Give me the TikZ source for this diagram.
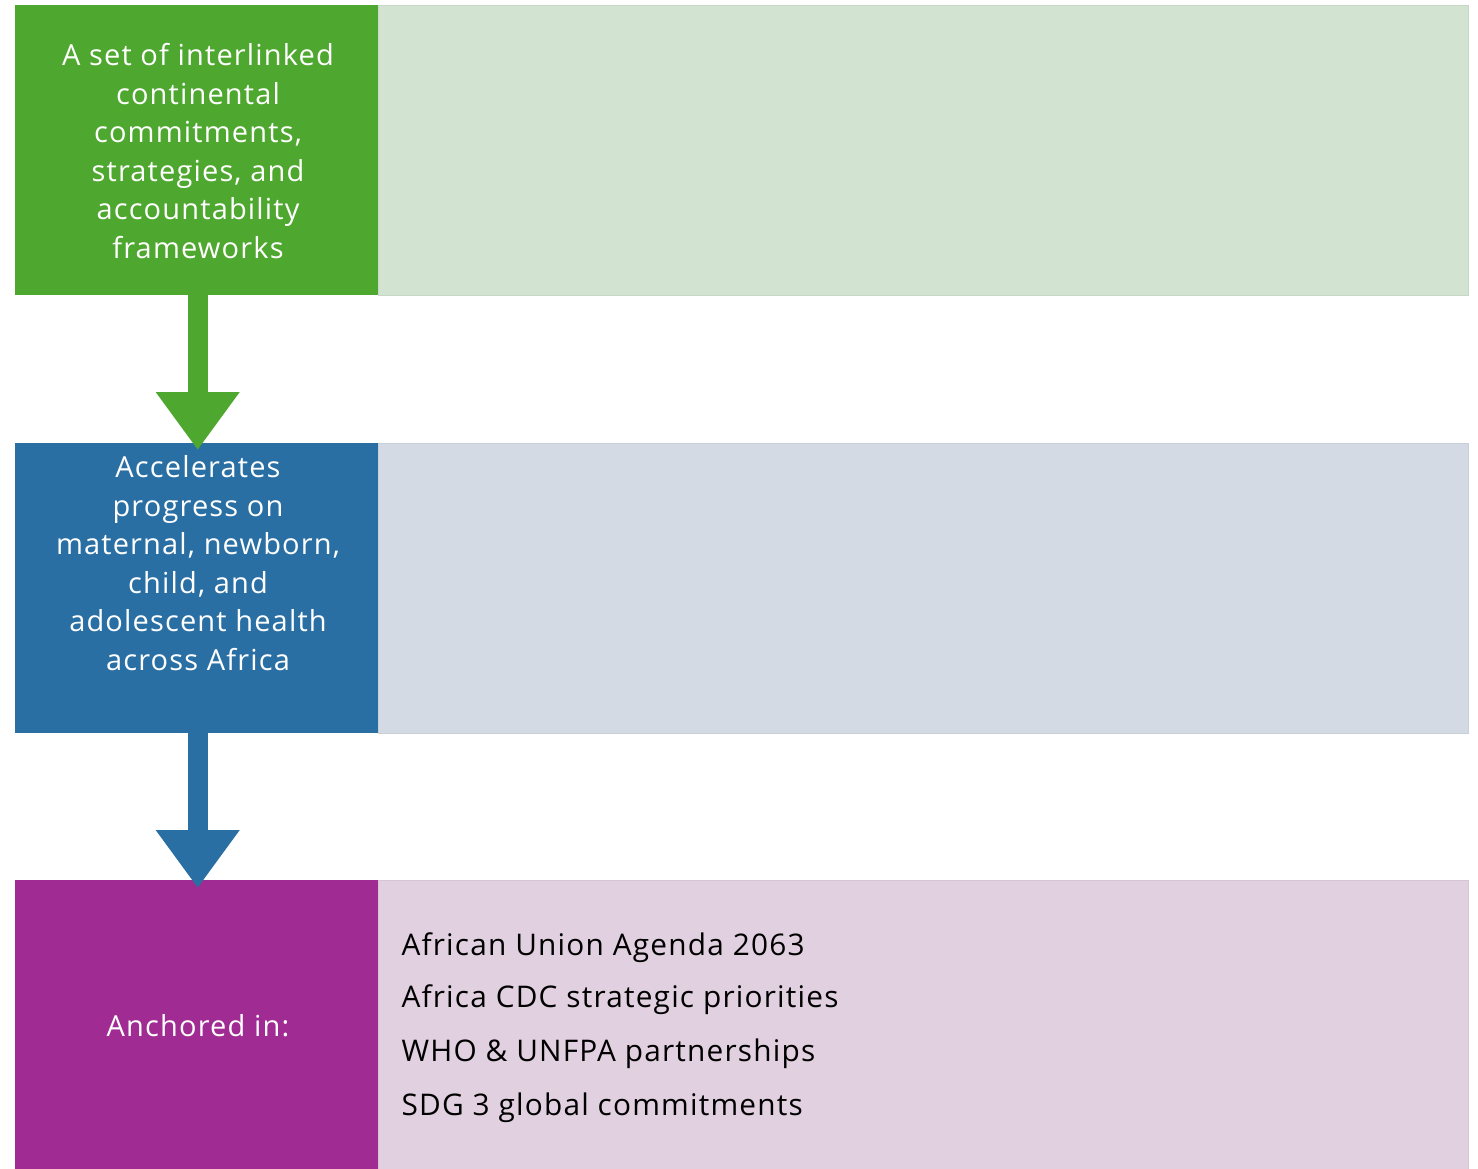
\documentclass[tikz,border=0pt]{standalone}
\usepackage{fontspec}
\setmainfont[LetterSpace=4]{Open Sans}
\usetikzlibrary{arrows.meta,positioning}

\definecolor{stagegreen}{HTML}{4EA72E}
\definecolor{stageblue}{HTML}{2A6FA3}
\definecolor{stagepurple}{HTML}{A02B93}
\definecolor{panelgreen}{HTML}{D3E3D2}
\definecolor{panelblue}{HTML}{D3DAE4}
\definecolor{panelpurple}{HTML}{E1D0E0}

\tikzset{
  stagebox/.style={rectangle, minimum width=363pt, minimum height=290pt, inner sep=0pt, anchor=north west},
  panelbox/.style={rectangle, minimum width=1090pt, minimum height=290pt, inner sep=0pt, anchor=north west, draw=#1!95!black, line width=0.8pt},
  stagetext/.style={text=white, align=center, font=\fontsize{29}{38.5}\selectfont},
  anchortext/.style={anchor=west, font=\fontsize{29.8}{34}\selectfont},
  flowarrow/.style={draw=#1, line width=20pt, -{Triangle[width=80pt,length=58pt]}}
}

\begin{document}
\begin{tikzpicture}[x=1pt,y=-1pt]
\useasboundingbox (0,0) rectangle (1478,1168);

% stage boxes
\node[stagebox, fill=stagegreen] (commit) at (15,5) {};
\node[panelbox=panelgreen, fill=panelgreen] (commitpanel) at (378,5) {};
\node[stagebox, fill=stageblue] (progress) at (15,443) {};
\node[panelbox=panelblue, fill=panelblue] (progresspanel) at (378,443) {};
\node[stagebox, fill=stagepurple] (anchor) at (15,880) {};
\node[panelbox=panelpurple, fill=panelpurple] (anchorpanel) at (378,880) {};

% texts
\node[stagetext] (committext) at (198,151) {A set of interlinked\\continental\\commitments,\\strategies, and\\accountability\\frameworks};
\node[stagetext] (progresstext) at (198,563) {Accelerates\\progress on\\maternal, newborn,\\child, and\\adolescent health\\across Africa};
\node[stagetext] (anchortxt) at (198,1026) {Anchored in:};

\node[anchortext] (au) at (398,948) {African Union Agenda 2063};
\node[anchortext] (cdc) at (398,1000) {Africa CDC strategic priorities};
\node[anchortext] (who) at (398,1054) {WHO \& UNFPA partnerships};
\node[anchortext] (sdg) at (398,1108) {SDG 3 global commitments};

% arrows
\draw[flowarrow=stagegreen, shorten >=-7pt] ([xshift=1pt]commit.south) -- ([xshift=1pt]progress.north);
\draw[flowarrow=stageblue, shorten >=-8pt] ([xshift=1pt]progress.south) -- ([xshift=1pt]anchor.north);

\end{tikzpicture}
\end{document}
